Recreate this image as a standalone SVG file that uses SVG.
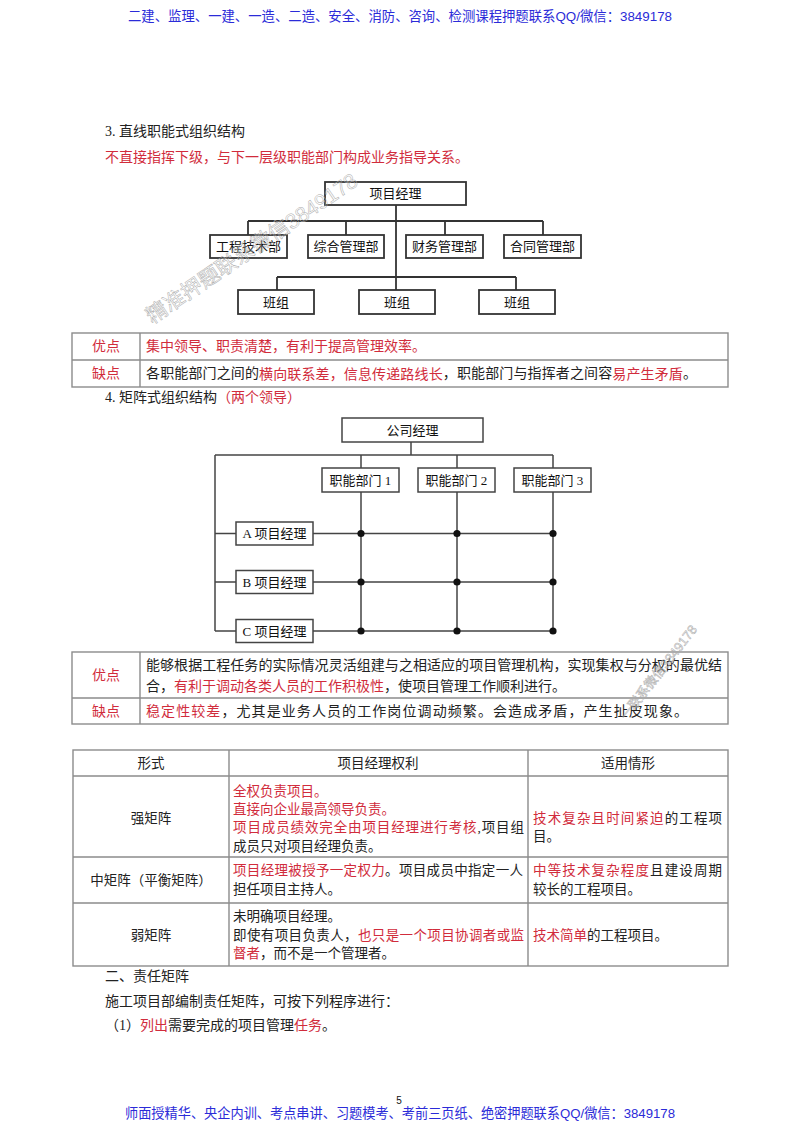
<svg xmlns="http://www.w3.org/2000/svg" width="800" height="1132" viewBox="0 0 800 1132">
<style>
text { dominant-baseline: central; }
.hdr { font-family: "Liberation Sans", "Noto Sans CJK SC", sans-serif; font-size: 13.6px; fill: #2b2bd8; }
.t { font-family: "Liberation Serif", "Noto Sans CJK SC", serif; font-size: 14px; fill: #222; }
.s { font-family: "Liberation Serif", "Noto Sans CJK SC", serif; font-size: 13.5px; fill: #222; }
.c { text-anchor: middle; }
.r { fill: #d12c3c; }
.box { fill: #fff; stroke: #333; stroke-width: 1.8; }
.box2 { fill: #fff; stroke: #444; stroke-width: 1.5; }
.ln { stroke: #333; stroke-width: 1.8; fill: none; }
.ln2 { stroke: #444; stroke-width: 1.5; fill: none; }
.bl { font-family: "Liberation Serif", "Noto Sans CJK SC", serif; font-size: 13px; fill: #111; text-anchor: middle; }
.tb { stroke: #8c8c8c; stroke-width: 1.4; fill: none; }
.dot { fill: #111; }
.wm { font-family: "Liberation Sans", "Noto Sans CJK SC", sans-serif; fill: none; stroke: #ababab; stroke-width: 0.5; }
</style>
<rect x="0" y="0" width="800" height="1132" fill="#fff"/>

<g id="header">
<text class="hdr" x="128" y="16" textLength="544" lengthAdjust="spacingAndGlyphs">二建、监理、一建、一造、二造、安全、消防、咨询、检测课程押题联系QQ/微信：3849178</text>
</g>

<g id="section3-title">
<text class="t" x="105" y="131">3. 直线职能式组织结构</text>
<text class="t r" x="105" y="157">不直接指挥下级，与下一层级职能部门构成业务指导关系。</text>
</g>

<g id="chart1-connectors">
<path class="ln" d="M396 205 V290"/>
<path class="ln" d="M248 221 H543"/>
<path class="ln" d="M248 221 V235 M346 221 V235 M445 221 V235 M543 221 V235"/>
<path class="ln" d="M277 277 H516"/>
<path class="ln" d="M277 277 V290 M516 277 V290"/>
</g>
<g id="c1-pm"><rect class="box" x="325" y="182" width="141" height="23"/><text class="bl" x="395.5" y="193.5">项目经理</text></g>
<g id="c1-eng"><rect class="box" x="210" y="235" width="77" height="23"/><text class="bl" x="248.5" y="246.5">工程技术部</text></g>
<g id="c1-gen"><rect class="box" x="308" y="235" width="76" height="23"/><text class="bl" x="346" y="246.5">综合管理部</text></g>
<g id="c1-fin"><rect class="box" x="406" y="235" width="77" height="23"/><text class="bl" x="444.5" y="246.5">财务管理部</text></g>
<g id="c1-con"><rect class="box" x="504" y="235" width="77" height="23"/><text class="bl" x="542.5" y="246.5">合同管理部</text></g>
<g id="c1-team1"><rect class="box" x="238" y="290" width="76" height="24"/><text class="bl" x="276" y="302">班组</text></g>
<g id="c1-team2"><rect class="box" x="359" y="290" width="76" height="24"/><text class="bl" x="397" y="302">班组</text></g>
<g id="c1-team3"><rect class="box" x="479" y="290" width="76" height="24"/><text class="bl" x="517" y="302">班组</text></g>

<g id="table1">
<rect class="tb" x="72" y="333" width="656" height="54"/>
<path class="tb" d="M72 360 H728 M140 333 V387"/>
<text class="t r c" x="106" y="346.5">优点</text>
<text class="t r" x="146" y="346.5">集中领导、职责清楚，有利于提高管理效率。</text>
<text class="t r c" x="106" y="373.5">缺点</text>
<text class="t" x="146" y="373.5" textLength="551" lengthAdjust="spacing">各职能部门之间的<tspan class="r">横向联系差，信息传递路线长</tspan>，职能部门与指挥者之间容<tspan class="r">易产生矛盾</tspan>。</text>
</g>

<g id="section4-title">
<text class="t" x="105" y="397">4. 矩阵式组织结构<tspan class="r">（两个领导）</tspan></text>
</g>

<g id="chart2-connectors">
<path class="ln2" d="M411 442 V455"/>
<path class="ln2" d="M215 455 H553"/>
<path class="ln2" d="M215 455 V631"/>
<path class="ln2" d="M361 455 V468 M457 455 V468 M553 455 V468"/>
<path class="ln2" d="M361 492 V631 M457 492 V631 M553 492 V631"/>
<path class="ln2" d="M215 533.5 H236 M313 533.5 H553"/>
<path class="ln2" d="M215 582 H236 M313 582 H553"/>
<path class="ln2" d="M215 631 H236 M313 631 H553"/>
<circle class="dot" cx="361" cy="533.5" r="3.6"/><circle class="dot" cx="457" cy="533.5" r="3.6"/><circle class="dot" cx="553" cy="533.5" r="3.6"/>
<circle class="dot" cx="361" cy="582" r="3.6"/><circle class="dot" cx="457" cy="582" r="3.6"/><circle class="dot" cx="553" cy="582" r="3.6"/>
<circle class="dot" cx="361" cy="631" r="3.6"/><circle class="dot" cx="457" cy="631" r="3.6"/><circle class="dot" cx="553" cy="631" r="3.6"/>
</g>
<g id="c2-cm"><rect class="box2" x="342" y="418" width="141" height="24"/><text class="bl" x="412.5" y="430">公司经理</text></g>
<g id="c2-d1"><rect class="box2" x="322" y="468" width="77" height="24"/><text class="bl" x="360.5" y="480">职能部门 1</text></g>
<g id="c2-d2"><rect class="box2" x="418" y="468" width="77" height="24"/><text class="bl" x="456.5" y="480">职能部门 2</text></g>
<g id="c2-d3"><rect class="box2" x="514" y="468" width="77" height="24"/><text class="bl" x="552.5" y="480">职能部门 3</text></g>
<g id="c2-a"><rect class="box2" x="236" y="522" width="77" height="23"/><text class="bl" x="274.5" y="533.5">A 项目经理</text></g>
<g id="c2-b"><rect class="box2" x="236" y="570.5" width="77" height="23"/><text class="bl" x="274.5" y="582">B 项目经理</text></g>
<g id="c2-c"><rect class="box2" x="236" y="619.5" width="77" height="23"/><text class="bl" x="274.5" y="631">C 项目经理</text></g>

<g id="table2">
<rect class="tb" x="72" y="652" width="656" height="72"/>
<path class="tb" d="M72 698 H728 M140 652 V724"/>
<text class="t r c" x="106" y="675">优点</text>
<text class="t" x="146" y="665" textLength="576" lengthAdjust="spacing">能够根据工程任务的实际情况灵活组建与之相适应的项目管理机构，实现集权与分权的最优结</text>
<text class="t" x="146" y="686">合，<tspan class="r">有利于调动各类人员的工作积极性</tspan>，使项目管理工作顺利进行。</text>
<text class="t r c" x="106" y="711">缺点</text>
<text class="t" x="146" y="711" textLength="542" lengthAdjust="spacing"><tspan class="r">稳定性较差</tspan>，尤其是业务人员的工作岗位调动频繁。会造成矛盾，产生扯皮现象。</text>
</g>

<g id="table3">
<rect class="tb" x="73" y="750" width="655" height="216"/>
<path class="tb" d="M73 776 H728 M73 857 H728 M73 903 H728 M229 750 V966 M528 750 V966"/>
<text class="s c" x="151" y="763">形式</text>
<text class="s c" x="378" y="763">项目经理权利</text>
<text class="s c" x="628" y="763">适用情形</text>

<text class="s c" x="151" y="818">强矩阵</text>
<text class="s r" x="233" y="791">全权负责项目。</text>
<text class="s r" x="233" y="809">直接向企业最高领导负责。</text>
<text class="s" x="233" y="827" textLength="291" lengthAdjust="spacing"><tspan class="r">项目成员绩效完全由项目经理进行考核</tspan>,项目组</text>
<text class="s" x="233" y="846">成员只对项目经理负责。</text>
<text class="s" x="533" y="818" textLength="189" lengthAdjust="spacing"><tspan class="r">技术复杂且时间紧迫</tspan>的工程项</text>
<text class="s" x="533" y="836">目。</text>

<text class="s c" x="151" y="880">中矩阵（平衡矩阵）</text>
<text class="s" x="233" y="870" textLength="290" lengthAdjust="spacing"><tspan class="r">项目经理被授予一定权力</tspan>。项目成员中指定一人</text>
<text class="s" x="233" y="889">担任项目主持人。</text>
<text class="s" x="533" y="870" textLength="189" lengthAdjust="spacing"><tspan class="r">中等技术复杂程度</tspan>且建设周期</text>
<text class="s" x="533" y="889">较长的工程项目。</text>

<text class="s c" x="151" y="935">弱矩阵</text>
<text class="s" x="233" y="916">未明确项目经理。</text>
<text class="s" x="233" y="935" textLength="291" lengthAdjust="spacing">即使有项目负责人，<tspan class="r">也只是一个项目协调者或监</tspan></text>
<text class="s" x="233" y="953"><tspan class="r">督者</tspan>，而不是一个管理者。</text>
<text class="s" x="533" y="935"><tspan class="r">技术简单</tspan>的工程项目。</text>
</g>

<g id="section-responsibility">
<text class="t" x="105" y="976">二、责任矩阵</text>
<text class="t" x="105" y="1001">施工项目部编制责任矩阵，可按下列程序进行：</text>
<text class="t" x="105" y="1025">（1）<tspan class="r">列出</tspan>需要完成的项目管理<tspan class="r">任务</tspan>。</text>
</g>

<g id="watermarks">
<text class="wm" x="148" y="318" font-size="21" transform="rotate(-34 148 318)">精准押题联系微信3849178</text>
<text class="wm" x="623" y="718" font-size="13" transform="rotate(-52 623 718)">一联系微信3849178</text>
</g>

<g id="footer">
<text x="399" y="1100" font-family="Liberation Sans, sans-serif" font-size="10" fill="#111" text-anchor="middle">5</text>
<text class="hdr" x="125" y="1113" textLength="550" lengthAdjust="spacingAndGlyphs">师面授精华、央企内训、考点串讲、习题模考、考前三页纸、绝密押题联系QQ/微信：3849178</text>
</g>
</svg>
